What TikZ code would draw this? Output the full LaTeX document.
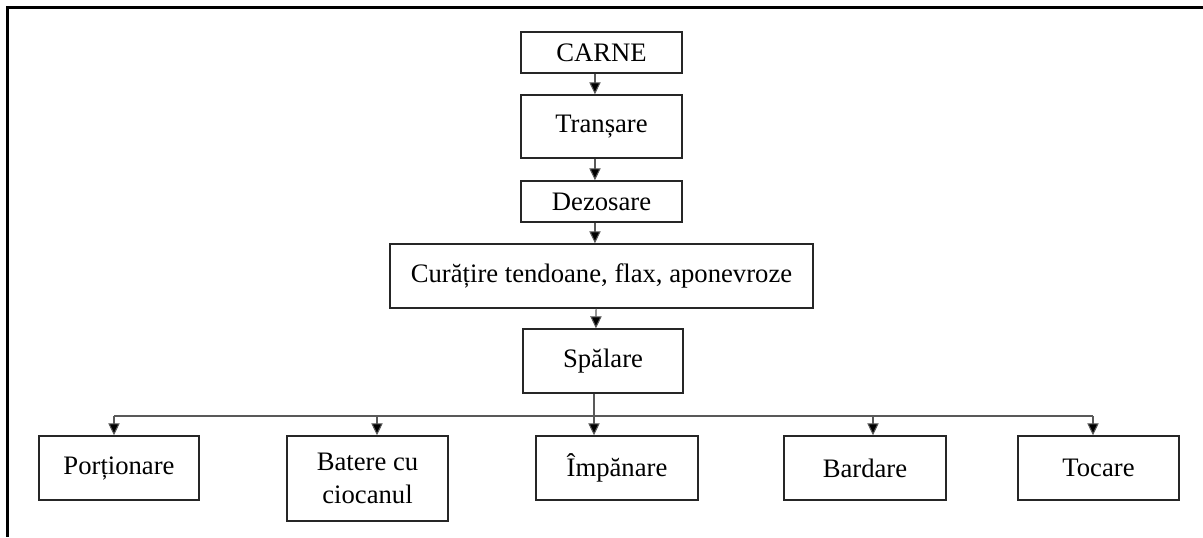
\documentclass[tikz,border=0pt]{standalone}
\usepackage{fontspec}
\setmainfont{Liberation Serif}
\usetikzlibrary{arrows.meta,calc}
\begin{document}
\begin{tikzpicture}[x=0.75pt,y=-0.75pt,
  box/.style={draw=black!85,line width=1.1pt,rectangle,inner sep=0pt,align=center,
    font=\fontsize{20}{24.5}\selectfont},
  conn/.style={draw=black!65,line width=0.8pt},
  arr/.style={conn,-{Triangle[width=8.5pt,length=9pt,fill=black]}},
  frame/.style={line width=1.6pt,black}]
\useasboundingbox (0,0) rectangle (1203,537);
% frame
\draw[frame] (1203,7.5) -- (7.5,7.5) -- (7.5,537);
% nodes
\node[box,minimum width=120.75pt,minimum height=30.75pt] (carne) at (601.5,52.5) {CARNE};
\node[box,minimum width=120.75pt,minimum height=47.25pt] (transare) at (601.5,126.5) {Tranșare};
\node[box,minimum width=120.75pt,minimum height=30.75pt] (dezosare) at (601.5,201.5) {Dezosare};
\node[box,minimum width=317.25pt,minimum height=48pt] (curatire) at (601.5,276) {Curățire tendoane, flax, aponevroze};
\node[box,minimum width=120pt,minimum height=48pt] (spalare) at (603,361) {Spălare};
\node[box,minimum width=120pt,minimum height=48pt] (portionare) at (119,468) {Porționare};
\node[box,minimum width=120.75pt,minimum height=63.75pt] (batere) at (367.5,478.5) {Batere cu\\ciocanul};
\node[box,minimum width=121.5pt,minimum height=48pt] (impanare) at (617,468) {Împănare};
\node[box,minimum width=121.5pt,minimum height=48pt] (bardare) at (865,468) {Bardare};
\node[box,minimum width=120.75pt,minimum height=48pt] (tocare) at (1098.5,468) {Tocare};
% vertical chain
\draw[arr] ([xshift=-4.9pt]carne.south) -- ([xshift=-4.9pt]transare.north);
\draw[arr] ([xshift=-4.9pt]transare.south) -- ([xshift=-4.9pt]dezosare.north);
\draw[arr] ([xshift=-4.9pt]dezosare.south) -- ([xshift=-4.9pt]curatire.north);
\draw[arr] ([xshift=-4.1pt]curatire.south) -- ([xshift=-5.3pt]spalare.north);
% bus
\coordinate (b1) at (114,416);
\coordinate (b2) at (377,416);
\coordinate (b3) at (594,416);
\coordinate (b4) at (873,416);
\coordinate (b5) at (1093,416);
\draw[conn] ([xshift=-6.75pt]spalare.south) -- (b3);
\draw[conn] (b1) -- (b5);
\draw[arr] (b1) -- (b1 |- portionare.north);
\draw[arr] (b2) -- (b2 |- batere.north);
\draw[arr] (b3) -- (b3 |- impanare.north);
\draw[arr] (b4) -- (b4 |- bardare.north);
\draw[arr] (b5) -- (b5 |- tocare.north);
\end{tikzpicture}
\end{document}
